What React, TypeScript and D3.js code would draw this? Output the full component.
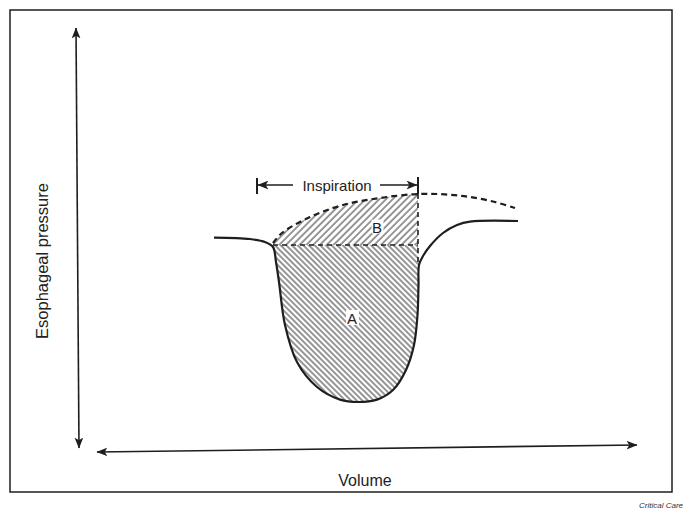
import React from "react";
import * as d3 from "d3";

// Abstract units: volume (x) and esophageal pressure (y)
const solidCurve: [number, number][] = [
  [22.8, 53.1], [30, 52.75], [33, 52], [34.6, 50.75], [35.2, 47], [35.8, 42],
  [37, 31.25], [39.4, 22], [43.4, 15.75], [48, 12.6], [51.6, 12],
  [55.4, 12.6], [58.6, 15], [61.2, 20], [62.8, 26.25], [63.5, 33.75],
  [63.7, 41.25], [63.8, 46.25], [64.6, 48.5], [66, 51], [68.6, 54.25],
  [71.4, 56.25], [74, 57.1], [83.6, 57.25],
];
const dashedCurve: [number, number][] = [
  [34.6, 51.75], [36.4, 54.25], [42, 58.25], [48.6, 61.25], [56, 63],
  [63.6, 64], [69, 63.9], [74, 63.25], [79, 62], [83, 60.5],
];
const baselinePressure = 51.25;
const inspStart = 31.4;
const inspEnd = 63.6;
const inspLevel = 66.25;
const yAxisLine: [number, number][] = [[-4.8, 105.5], [-4.2, 0.5]];
const xAxisLine: [number, number][] = [[-0.6, -0.5], [107.4, 1.25]];
const labels = { y: "Esophageal pressure", x: "Volume", insp: "Inspiration", a: "A", b: "B", credit: "Critical Care" };
const areaALabel: [number, number] = [50.4, 33];
const areaBLabel: [number, number] = [55.4, 55.75];

const W = 685;
const H = 510;
const x = d3.scaleLinear().domain([0, 100]).range([100, 600]);
const y = d3.scaleLinear().domain([0, 100]).range([450, 50]);

export default function App() {
  const line = d3
    .line<[number, number]>()
    .x((d) => x(d[0]))
    .y((d) => y(d[1]))
    .curve(d3.curveCatmullRom.alpha(0.5));

  const solidPath = line(solidCurve) || "";
  const dashedPath = line(dashedCurve) || "";

  const dipPts: [number, number][] = [
    [solidCurve[3][0], baselinePressure],
    ...solidCurve.slice(3, 18),
    [inspEnd, baselinePressure],
  ];
  const areaA = (line(dipPts) || "") + "Z";

  const bTop = dashedCurve.slice(0, 6);
  const areaB =
    (line(bTop) || "") +
    `L${x(inspEnd)},${y(baselinePressure)}L${x(dashedCurve[0][0])},${y(baselinePressure)}Z`;

  const ink = "#1e1e1e";
  const font = "'Liberation Sans', Arial, Helvetica, sans-serif";
  const xi0 = x(inspStart);
  const xi1 = x(inspEnd);
  const yi = y(inspLevel);
  const yTop = y(dashedCurve[5][1]);

  return (
    <svg
      width={W}
      height={H}
      style={{ position: "absolute", left: 0, top: 0, background: "#fff" }}
    >
      <defs>
        <pattern id="hatchA" width="4" height="10" patternUnits="userSpaceOnUse" patternTransform="rotate(-45)">
          <line x1="1" y1="0" x2="1" y2="10" stroke="#222" strokeWidth="0.95" />
        </pattern>
        <pattern id="hatchB" width="4.8" height="10" patternUnits="userSpaceOnUse" patternTransform="rotate(45)">
          <line x1="1" y1="0" x2="1" y2="10" stroke="#222" strokeWidth="0.95" />
        </pattern>
        <marker id="arr" viewBox="0 0 10 8" refX="9.5" refY="4" markerWidth="11" markerHeight="9" markerUnits="userSpaceOnUse" orient="auto-start-reverse">
          <path d="M0,0 L10,4 L0,8 L2.5,4 Z" fill={ink} />
        </marker>
      </defs>

      <rect x={10} y={10} width={662} height={482} fill="none" stroke={ink} strokeWidth={1.5} />

      {/* axes */}
      <line
        x1={x(yAxisLine[0][0])} y1={y(yAxisLine[0][1])}
        x2={x(yAxisLine[1][0])} y2={y(yAxisLine[1][1])}
        stroke={ink} strokeWidth={1.6}
        markerStart="url(#arr)" markerEnd="url(#arr)"
      />
      <line
        x1={x(xAxisLine[0][0])} y1={y(xAxisLine[0][1])}
        x2={x(xAxisLine[1][0])} y2={y(xAxisLine[1][1])}
        stroke={ink} strokeWidth={1.6}
        markerStart="url(#arr)" markerEnd="url(#arr)"
      />
      <text
        transform={`translate(48,261) rotate(-90)`}
        textAnchor="middle" fontFamily={font} fontSize={16.5} fill="#222"
      >
        {labels.y}
      </text>
      <text x={365} y={486} textAnchor="middle" fontFamily={font} fontSize={16} fill="#222">
        {labels.x}
      </text>
      <text x={683} y={508} textAnchor="end" fontFamily={font} fontSize={8} fontStyle="italic" fill="#333">
        {labels.credit}
      </text>

      {/* hatched areas */}
      <path d={areaA} fill="url(#hatchA)" stroke="none" />
      <path d={areaB} fill="url(#hatchB)" stroke="none" />

      {/* baseline & vertical dashed */}
      <line
        x1={x(dashedCurve[0][0])} y1={y(baselinePressure)}
        x2={x(inspEnd)} y2={y(baselinePressure)}
        stroke={ink} strokeWidth={1.6} strokeDasharray="5 4"
      />
      <line
        x1={xi1} y1={yTop} x2={xi1} y2={y(solidCurve[17][1])}
        stroke={ink} strokeWidth={1.6} strokeDasharray="5 4"
      />

      {/* curves */}
      <path d={dashedPath} fill="none" stroke={ink} strokeWidth={2.2} strokeDasharray="6 4" />
      <path d={solidPath} fill="none" stroke={ink} strokeWidth={2.2} />

      {/* inspiration bracket */}
      <line x1={xi0} y1={yi - 7} x2={xi0} y2={yi + 9} stroke={ink} strokeWidth={2} />
      <line x1={xi1} y1={yi - 8} x2={xi1} y2={yTop} stroke={ink} strokeWidth={2} />
      <line x1={xi0 + 36} y1={yi} x2={xi0 + 1} y2={yi} stroke={ink} strokeWidth={1.6} markerEnd="url(#arr)" />
      <line x1={xi1 - 38} y1={yi} x2={xi1 - 1} y2={yi} stroke={ink} strokeWidth={1.6} markerEnd="url(#arr)" />
      <text x={(xi0 + xi1) / 2 - 0.5} y={yi + 5.5} textAnchor="middle" fontFamily={font} fontSize={15} fill="#222">
        {labels.insp}
      </text>

      <rect x={x(areaBLabel[0]) - 5.5} y={y(areaBLabel[1]) - 7.5} width={12} height={14} fill="#fff" />
      <text x={x(areaBLabel[0])} y={y(areaBLabel[1]) + 5.5} textAnchor="middle" fontFamily={font} fontSize={15} fill="#222">
        {labels.b}
      </text>
      <rect x={x(areaALabel[0]) - 6} y={y(areaALabel[1]) - 8} width={13} height={15} fill="#fff" />
      <text x={x(areaALabel[0])} y={y(areaALabel[1]) + 5.5} textAnchor="middle" fontFamily={font} fontSize={15} fill="#222">
        {labels.a}
      </text>
    </svg>
  );
}
